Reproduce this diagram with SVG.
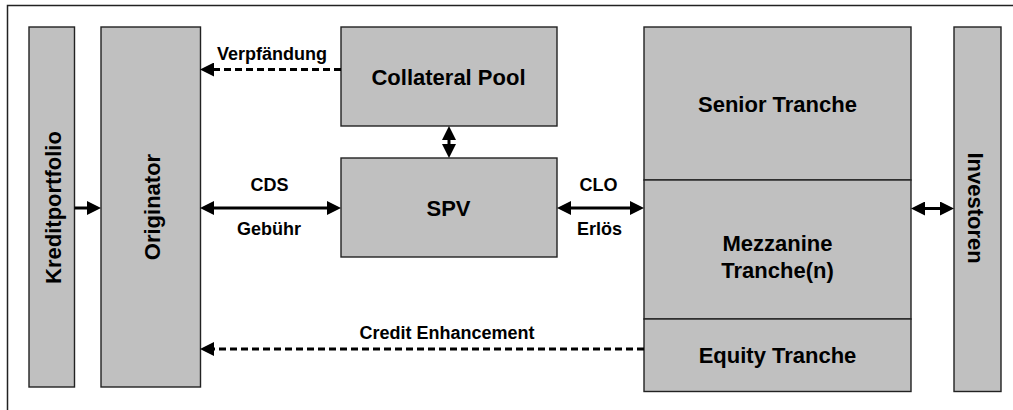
<svg xmlns="http://www.w3.org/2000/svg" width="1013" height="410" viewBox="0 0 1013 410">
<style>
.box{fill:#c0c0c0;stroke:#222;stroke-width:1.4}
.frame{fill:#fff;stroke:#222;stroke-width:1.5}
.lbl{font-family:"Liberation Sans",Arial,sans-serif;font-weight:bold;fill:#000;text-anchor:middle}
.node{font-size:22px}
.edge{font-size:18px}
.ln{stroke:#000;stroke-width:3;fill:none}
.dash{stroke-dasharray:7 4}
</style>
<defs>
<marker id="ah" viewBox="0 0 14 14" refX="2" refY="7" markerWidth="14" markerHeight="14" markerUnits="userSpaceOnUse" orient="auto-start-reverse">
<path d="M0,0 L14,7 L0,14 Z" fill="#000"/>
</marker>
</defs>
<rect class="frame" x="7.5" y="5.5" width="1020" height="420"/>
<g id="kreditportfolio">
<rect class="box" x="29" y="27" width="45.5" height="360"/>
<text class="lbl node" transform="translate(52.5,207.5) rotate(-90)" y="8.5">Kreditportfolio</text>
</g>
<g id="originator">
<rect class="box" x="101" y="27" width="99.5" height="360"/>
<text class="lbl node" transform="translate(151,207) rotate(-90)" y="9">Originator</text>
</g>
<g id="collateral-pool">
<rect class="box" x="341" y="27" width="216" height="99"/>
<text class="lbl node" x="448.5" y="84.5">Collateral Pool</text>
</g>
<g id="spv">
<rect class="box" x="341" y="158" width="216" height="99"/>
<text class="lbl node" x="448.5" y="215.5">SPV</text>
</g>
<g id="senior-tranche">
<rect class="box" x="644" y="27" width="267" height="153"/>
<text class="lbl node" x="777.5" y="111.5">Senior Tranche</text>
</g>
<g id="mezzanine-tranche">
<rect class="box" x="644" y="180" width="267" height="139"/>
<text class="lbl node" x="777.5" y="250.5">Mezzanine</text>
<text class="lbl node" x="777.5" y="277.5">Tranche(n)</text>
</g>
<g id="equity-tranche">
<rect class="box" x="644" y="319" width="267" height="72.5"/>
<text class="lbl node" x="777.5" y="362.5">Equity Tranche</text>
</g>
<g id="investoren">
<rect class="box" x="954" y="27" width="47" height="364.5"/>
<text class="lbl node" transform="translate(976,208) rotate(90)" y="8">Investoren</text>
</g>
<g id="connectors">
<line class="ln" x1="74.5" y1="208" x2="89" y2="208" marker-end="url(#ah)"/>
<line class="ln" x1="212" y1="208" x2="329" y2="208" marker-start="url(#ah)" marker-end="url(#ah)"/>
<line class="ln" x1="569" y1="208" x2="632" y2="208" marker-start="url(#ah)" marker-end="url(#ah)"/>
<line class="ln" x1="923" y1="208.5" x2="942" y2="208.5" marker-start="url(#ah)" marker-end="url(#ah)"/>
<line class="ln" x1="449" y1="138" x2="449" y2="146" marker-start="url(#ah)" marker-end="url(#ah)"/>
<line class="ln dash" x1="341" y1="69.5" x2="212" y2="69.5" marker-end="url(#ah)"/>
<line class="ln dash" x1="644" y1="349" x2="212" y2="349" marker-end="url(#ah)"/>
<text class="lbl edge" x="272" y="59.5">Verpfändung</text>
<text class="lbl edge" x="269.5" y="191">CDS</text>
<text class="lbl edge" x="269" y="235">Gebühr</text>
<text class="lbl edge" x="598.5" y="191">CLO</text>
<text class="lbl edge" x="599.5" y="235">Erlös</text>
<text class="lbl edge" x="447" y="339">Credit Enhancement</text>
</g>
</svg>
